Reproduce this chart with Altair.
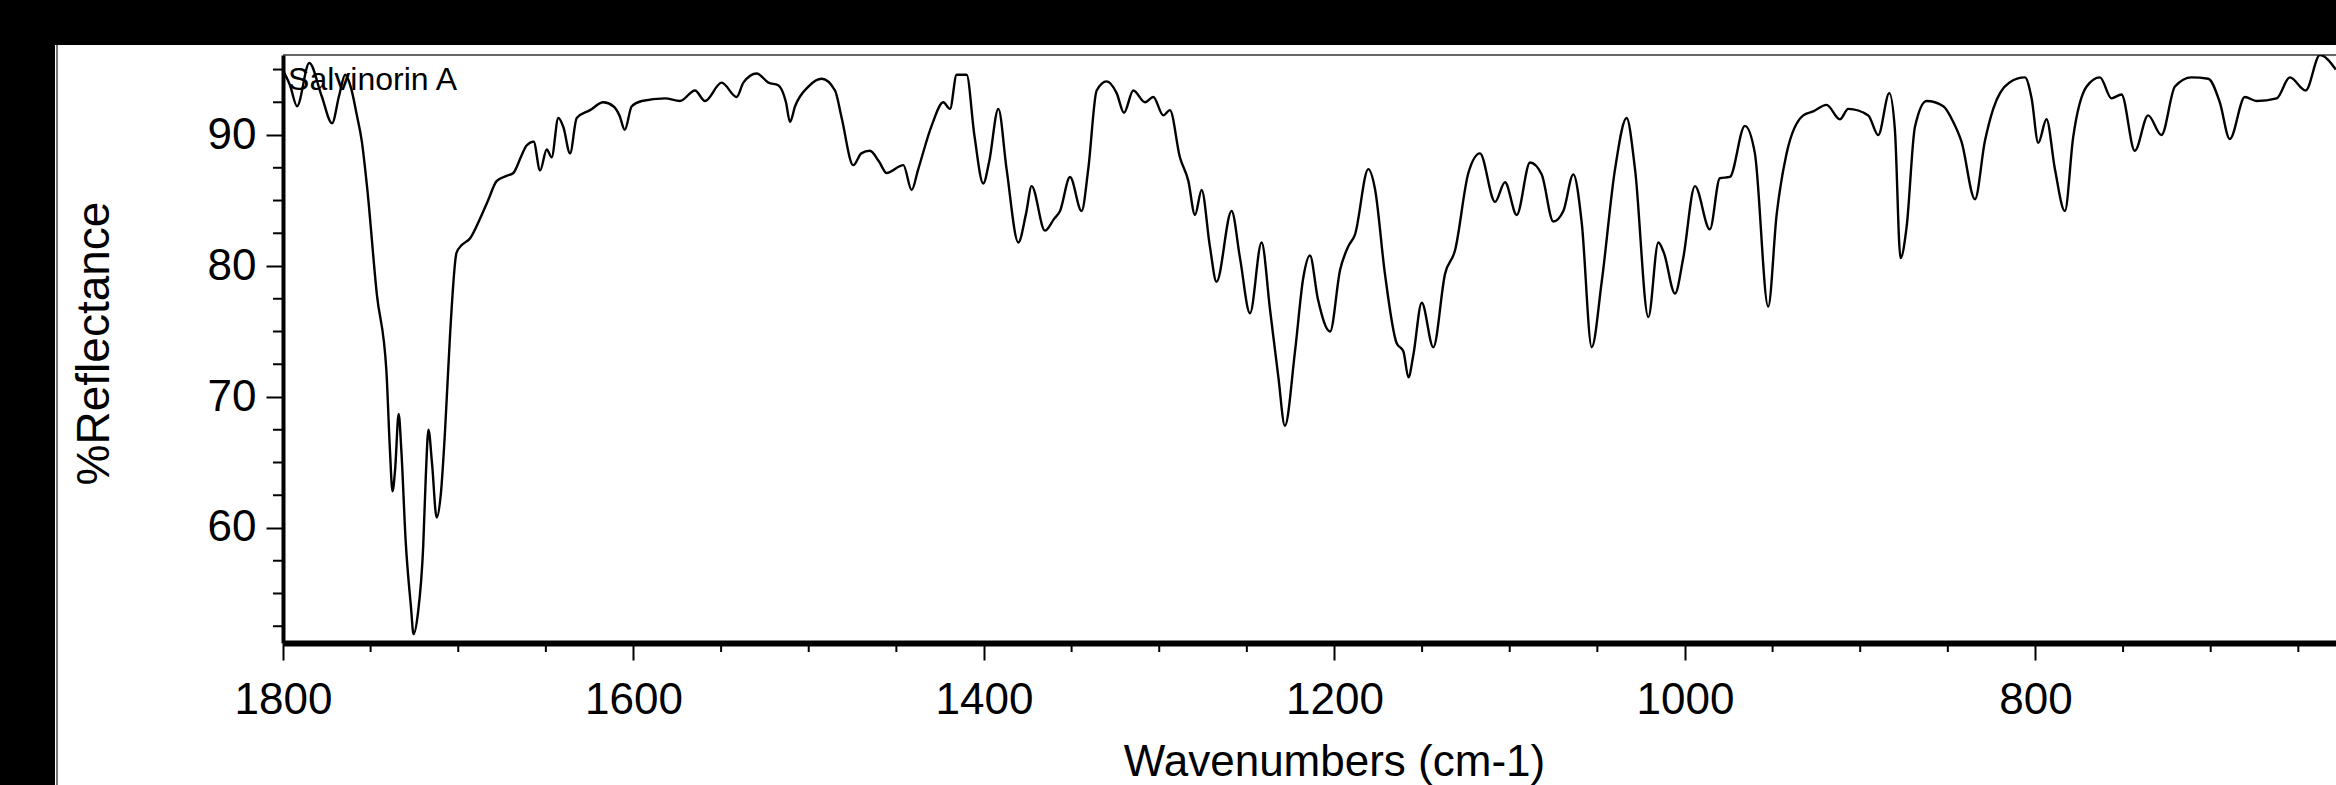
import altair as alt
import pandas as pd

# ---- spectrum (wavenumber cm-1, %Reflectance) ----
wavenumber = [
    1799.5, 1796, 1792, 1785, 1778, 1772, 1768, 1764.5, 1761, 1758, 1755, 1752,
    1746.5, 1741, 1739, 1737.5, 1736, 1734, 1732.5, 1730, 1727, 1725.5, 1723,
    1720, 1718.5, 1717, 1715, 1712.3, 1710, 1707.5, 1704.7, 1701, 1698, 1693.3,
    1687.6, 1683, 1678, 1672, 1668.6, 1664, 1661, 1657, 1653.3, 1649.5, 1646.7,
    1642.9, 1640, 1636.2, 1632.4, 1624.8, 1617.2, 1611.5, 1608, 1605,
    1601, 1595.3, 1582, 1573.5, 1564.9, 1559.2, 1549.7, 1541.1, 1537.3, 1529.7,
    1523, 1517.4, 1513, 1510.7, 1507.8, 1500.2, 1492.6, 1485, 1481.2, 1474.6,
    1470, 1465.1, 1460, 1455.5, 1446, 1441.3, 1437.5, 1429.9, 1423.2, 1419.4,
    1415.6, 1409.9,
    1405.5, 1400.4, 1397, 1391.8, 1387.1, 1380.4, 1376, 1372.8, 1365.2, 1360,
    1356.6, 1350.9, 1344.3, 1340.5, 1335.7, 1330, 1324.3, 1320.1, 1314.8,
    1308.1, 1303.4, 1297.7, 1293.9, 1288.2, 1283.4, 1279.6, 1275.8, 1271.1,
    1267.3, 1258.7, 1253.9, 1248.2, 1241.6, 1236.8, 1232, 1228.3, 1222.5,
    1217.8, 1214, 1209.5,
    1202.5, 1196.8, 1192.1, 1188.3, 1180.7, 1176.9, 1171.2, 1164.5, 1160.7,
    1157.8, 1155, 1150.2, 1143.6, 1136.9, 1131.2, 1123.6, 1117, 1108.4, 1102.7,
    1096, 1088.4, 1081.8, 1075.1, 1069.4, 1063.7, 1058.9, 1053.2, 1047.5,
    1039.9, 1033.3, 1028.5, 1020.9, 1015.2, 1012,
    1005.7, 1001, 994.3, 985.8, 980.1, 974.4, 965.8, 960.1, 952.5, 947.7, 942,
    932.5, 926.8, 919.2, 911.6, 906.8, 895.4, 889.7, 883.4, 880.2, 877, 873.5,
    868.8, 862.1, 852.6, 846.9, 842.2, 834.5, 828.9, 824.1, 815,
    806, 802.2, 798.4, 793.7, 788.9, 783.2, 778.5, 770.8, 763.2, 756.6, 750.9,
    743.3, 735.7, 728.1, 720.4, 711, 701.4, 694.8, 689.1, 680.5, 673.8, 662.4,
    654.8, 645.8, 637.7, 628.6,
]
reflectance = [
    94.8, 93.8, 92.2, 95.5, 93.0, 90.9, 93.0, 94.6, 93.5, 91.6, 89.5, 86.0,
    77.9, 72.0, 66.0, 62.8, 64.5, 68.7, 66.0, 59.0, 54.0, 51.9, 53.5,
    58.6, 64.0, 67.5, 65.0, 60.8, 62.5, 67.5, 74.7, 81.0, 81.6, 82.1,
    83.6, 85.0, 86.5, 86.9, 87.1, 88.4, 89.2, 89.5, 87.3, 88.9, 88.3,
    91.3, 90.6, 88.6, 91.3, 91.9, 92.5, 92.2, 91.5, 90.4,
    92.2, 92.6, 92.8, 92.6, 93.4, 92.6, 94.0, 92.9, 94.0, 94.7,
    94.0, 93.8, 92.5, 91.0, 92.2, 93.7, 94.3, 93.4, 91.3, 87.7,
    88.6, 88.8, 88.0, 87.1, 87.7, 85.8, 87.4, 90.7, 92.5, 92.0,
    94.6, 94.6,
    90.0, 86.3, 88.0, 92.0, 87.4, 81.8, 84.0, 86.1, 82.7, 83.6,
    84.2, 86.8, 84.2, 87.4, 93.4, 94.1, 93.2, 91.7, 93.4,
    92.5, 92.9, 91.5, 91.9, 88.3, 86.5, 83.9, 85.8, 81.5,
    78.8, 84.2, 80.6, 76.4, 81.8, 76.7, 71.5, 67.8, 73.5,
    79.1, 80.8, 77.5,
    75.0, 79.7, 81.5, 82.4, 87.4, 85.9, 79.4, 74.1, 73.5,
    71.5, 73.2, 77.2, 73.8, 79.4, 81.2, 87.1, 88.6, 84.9, 86.4,
    83.9, 87.9, 87.0, 83.4, 84.2, 87.0, 83.3, 73.8, 78.8,
    87.4, 91.3, 87.4, 76.1, 81.8, 81.0,
    77.9, 80.6, 86.1, 82.8, 86.7, 86.8, 90.7, 88.6, 76.9, 83.9, 88.6,
    91.5, 91.8, 92.3, 91.2, 92.0, 91.5, 90.0, 93.2, 90.4, 80.6, 83.0,
    90.6, 92.6, 92.2, 91.0, 89.5, 85.1, 89.5, 92.0, 94.0,
    94.4, 92.8, 89.4, 91.2, 87.4, 84.2, 89.8, 93.7, 94.4, 92.8, 93.1,
    88.8, 91.5, 90.0, 93.7, 94.4, 94.3, 92.5, 89.7, 92.9, 92.6, 92.8,
    94.4, 93.4, 96.1, 95.0,
]

# ---- axis ticks ----
x_major = [1800, 1600, 1400, 1200, 1000, 800]
x_minor = [1750, 1700, 1650, 1550, 1500, 1450, 1350, 1300, 1250, 1150, 1100,
           1050, 950, 900, 850, 750, 700, 650]
y_major = [60, 70, 80, 90]
y_minor = [52.5, 55, 57.5, 62.5, 65, 67.5, 72.5, 75, 77.5, 82.5, 85, 87.5,
           92.5, 95]

label_text = ["Salvinorin A"]
label_wn = [1797.1]
label_refl = [93.4]

x_domain = [628.5, 1800]
y_domain = [51.22, 96.11]

W, H = 2053, 588
FONT = "Liberation Sans"

spec_df = pd.DataFrame({"wn": wavenumber, "refl": reflectance})
xminor_df = pd.DataFrame({"wn": x_minor})
yminor_df = pd.DataFrame({"refl": y_minor})
label_df = pd.DataFrame({"wn": label_wn, "refl": label_refl, "txt": label_text})
one = pd.DataFrame({"k": [0]})

x_scale = alt.Scale(domain=x_domain, reverse=True, nice=False, zero=False)
y_scale = alt.Scale(domain=y_domain, nice=False, zero=False)

x_axis = alt.Axis(values=x_major, format="d", grid=False, zindex=2,
                  tickSize=17, tickWidth=2, tickColor="black",
                  domainWidth=6, domainColor="black",
                  labelFont=FONT, labelFontSize=44, labelColor="black",
                  labelBaseline="alphabetic", labelPadding=53,
                  labelFlush=False, labelOverlap=False,
                  title="Wavenumbers (cm-1)", titleFont=FONT,
                  titleFontSize=44, titleFontWeight="normal",
                  titleColor="black", titleX=1051, titleY=132,
                  titleBaseline="alphabetic", titleAlign="center")
y_axis = alt.Axis(values=y_major, format="d", grid=False, zindex=2,
                  tickSize=17, tickWidth=2, tickColor="black",
                  domainWidth=4, domainColor="black",
                  labelFont=FONT, labelFontSize=44, labelColor="black",
                  labelBaseline="middle", labelPadding=10,
                  labelFlush=False, labelOverlap=False,
                  title="%Reflectance", titleFont=FONT,
                  titleFontSize=46, titleFontWeight="normal",
                  titleColor="black", titleX=-175, titleY=288,
                  titleAngle=270, titleBaseline="alphabetic",
                  titleAlign="center")

X = alt.X("wn:Q", scale=x_scale, axis=x_axis)
Y = alt.Y("refl:Q", scale=y_scale, axis=y_axis)

# white page behind the figure (black scan border remains around it)
page = alt.Chart(one).mark_rect(color="white").encode(
    x=alt.value(-228), x2=alt.value(W + 10), y=alt.value(-10), y2=alt.value(H + 160)
)
left_border = alt.Chart(one).mark_rule(color="#777777", strokeWidth=2).encode(
    x=alt.value(-226), y=alt.value(-10), y2=alt.value(H + 160)
)
top_frame = alt.Chart(one).mark_rule(color="#666666", strokeWidth=2).encode(
    x=alt.value(0), x2=alt.value(W + 10), y=alt.value(0)
)

xminor = alt.Chart(xminor_df).mark_rule(color="black", strokeWidth=2).encode(
    x=X, y=alt.value(H), y2=alt.value(H + 9),
)
yminor = alt.Chart(yminor_df).mark_rule(color="black", strokeWidth=2).encode(
    y=Y, x=alt.value(-10), x2=alt.value(0),
)

line = alt.Chart(spec_df).mark_line(
    color="black", strokeWidth=2.4, interpolate="monotone", clip=True
).encode(x=X, y=Y)

label = alt.Chart(label_df).mark_text(
    font=FONT, fontSize=32, color="black", align="left", baseline="alphabetic"
).encode(x=X, y=Y, text="txt:N")

chart = alt.layer(page, left_border, top_frame, xminor, yminor, line, label).properties(
    width=W, height=H,
    padding={"left": 283, "top": 55, "right": 0, "bottom": 142},
    autosize=alt.AutoSizeParams(type="none"),
).configure(background="black").configure_view(stroke=None)

chart.save("out.html", embed_options={"renderer": "svg", "actions": False})
